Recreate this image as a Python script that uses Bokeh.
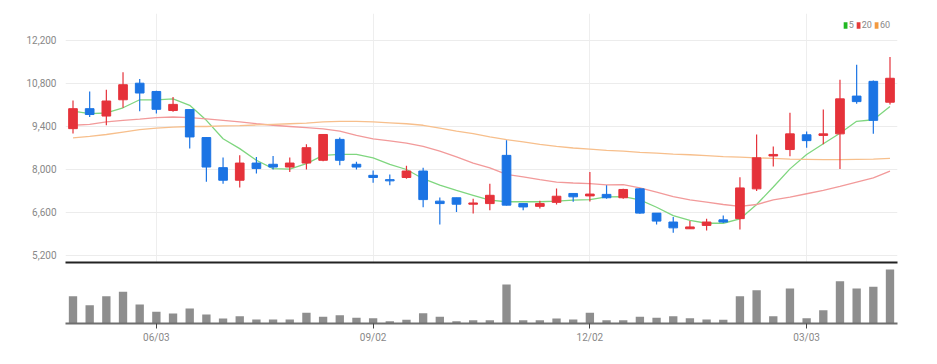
from bokeh.plotting import figure
from bokeh.layouts import column
from bokeh.models import ColumnDataSource, FixedTicker, NumeralTickFormatter, Range1d, Legend, LegendItem
from bokeh.embed import file_html
from bokeh.resources import INLINE

opens = [9330, 9980, 9740, 10270, 10810, 10540, 9920, 9950, 9040, 8060,
         7650, 8210, 8170, 8080, 8210, 8300, 8980, 8170, 7810, 7670,
         7740, 7950, 6970, 7080, 6870, 6890, 8460, 6890, 6800, 6930,
         7220, 7140, 7190, 7080, 7370, 6580, 6290, 6070, 6180, 6360,
         6400, 7370, 8440, 8650, 9130, 9110, 9160, 10390, 10870, 10190]
highs = [10250, 10540, 10600, 11170, 10950, 10560, 10360, 9950, 9060, 8390,
         8460, 8410, 8440, 8390, 8820, 9140, 9040, 8250, 7970, 7840,
         8120, 8060, 7090, 7080, 7050, 7540, 8950, 6890, 6980, 7380,
         7220, 7920, 7490, 7370, 7400, 6580, 6450, 6320, 6400, 6500,
         7750, 9140, 8750, 9850, 9240, 9950, 10920, 11410, 10900, 11660]
lows = [9170, 9710, 9440, 10010, 9900, 9820, 9880, 8680, 7600, 7540,
        7410, 7870, 8000, 7920, 8000, 8270, 8140, 8000, 7570, 7490,
        7700, 6770, 6210, 6620, 6570, 6670, 6830, 6670, 6730, 6860,
        6950, 6960, 7050, 7050, 6560, 6210, 5940, 6070, 6010, 6260,
        6050, 7300, 8100, 8430, 8710, 8820, 8020, 10140, 9160, 10120]
closes = [9980, 9790, 10230, 10760, 10490, 9960, 10120, 9060, 8080, 7650,
          8210, 8030, 8080, 8210, 8710, 9140, 8300, 8080, 7740, 7630,
          7950, 7020, 6890, 6870, 6910, 7160, 6840, 6780, 6890, 7130,
          7110, 7200, 7080, 7350, 6580, 6320, 6100, 6130, 6290, 6290,
          7400, 8380, 8490, 9160, 8940, 9160, 10300, 10210, 9600, 10970]
volumes = [820000, 550000, 820000, 950000, 570000, 350000, 300000, 450000, 270000, 150000,
           220000, 120000, 120000, 120000, 320000, 200000, 250000, 170000, 160000, 70000,
           110000, 310000, 200000, 70000, 100000, 100000, 1170000, 100000, 100000, 150000,
           120000, 320000, 100000, 100000, 200000, 170000, 220000, 160000, 120000, 110000,
           820000, 1000000, 220000, 1050000, 160000, 400000, 1270000, 1050000, 1100000, 1620000]
ma5 = [9900, 9820, 9840, 10010, 10270, 10270, 10300, 10090, 9600, 9000,
       8680, 8300, 8030, 8010, 8190, 8460, 8490, 8490, 8380, 8170,
       8000, 7700, 7490, 7320, 7160, 7000, 6950, 6950, 6950, 6970,
       7000, 7020, 7110, 7120, 7010, 6770, 6500, 6340, 6250, 6250,
       6390, 6860, 7430, 8020, 8490, 8840, 9180, 9570, 9620, 10050]
ma20 = [9440, 9470, 9550, 9600, 9640, 9690, 9710, 9690, 9650, 9600,
        9550, 9490, 9440, 9400, 9360, 9320, 9250, 9110, 9000, 8930,
        8860, 8750, 8600, 8410, 8210, 8050, 7840, 7760, 7670, 7590,
        7560, 7540, 7500, 7510, 7400, 7260, 7120, 7010, 6940, 6860,
        6800, 6860, 7010, 7100, 7210, 7320, 7450, 7590, 7730, 7950]
ma60 = [9030, 9080, 9140, 9220, 9300, 9350, 9380, 9400, 9400, 9420,
        9430, 9450, 9470, 9490, 9510, 9550, 9570, 9570, 9550, 9520,
        9490, 9440, 9350, 9250, 9170, 9060, 8970, 8900, 8820, 8750,
        8700, 8660, 8620, 8600, 8560, 8530, 8500, 8480, 8450, 8420,
        8400, 8380, 8360, 8340, 8330, 8320, 8320, 8330, 8340, 8360]
price_ticks = [5200, 6600, 8000, 9400, 10800, 12200]
date_tick_index = [5, 18, 31, 44]
date_tick_labels = ["06/03", "09/02", "12/02", "03/03"]
legend_labels = ["5", "20", "60"]

UP = "#e5323a"
DOWN = "#1b74e4"
FONT = "Roboto"

idx = list(range(len(opens)))
src = ColumnDataSource(dict(
    x=idx, o=opens, h=highs, l=lows, c=closes, v=volumes,
    top=[max(a, b) for a, b in zip(opens, closes)],
    bot=[min(a, b) for a, b in zip(opens, closes)],
    col=[UP if c >= o else DOWN for o, c in zip(opens, closes)],
    ma5=ma5, ma20=ma20, ma60=ma60,
))

xr = Range1d(-0.45, len(opens) - 0.55)

p1 = figure(width=928, height=265, output_backend="svg", toolbar_location=None,
            x_range=xr, y_range=Range1d(4972, 13079),
            min_border_left=65, min_border_right=31, min_border_top=13, min_border_bottom=3)
p1.outline_line_color = None

p1.yaxis.ticker = FixedTicker(ticks=price_ticks)
p1.yaxis.formatter = NumeralTickFormatter(format="0,0")
p1.yaxis.axis_line_color = None
p1.yaxis.major_tick_line_color = None
p1.yaxis.minor_tick_line_color = None
p1.yaxis.major_label_text_font = FONT
p1.yaxis.major_label_text_font_size = "10px"
p1.yaxis.major_label_text_color = "#888888"
p1.yaxis.major_label_standoff = 3

p1.xaxis.ticker = FixedTicker(ticks=[])
p1.xaxis.major_tick_line_color = None
p1.xaxis.minor_tick_line_color = None
p1.xaxis.axis_line_color = "#222222"
p1.xaxis.axis_line_width = 2

p1.ygrid.grid_line_color = "#ececec"
p1.xgrid.ticker = FixedTicker(ticks=date_tick_index)
p1.xgrid.grid_line_color = "#eeeeee"

p1.line("x", "ma5", source=src, line_color="#7fd67f", line_width=1.3)
p1.line("x", "ma20", source=src, line_color="#f29a9a", line_width=1.3)
p1.line("x", "ma60", source=src, line_color="#f7bf8c", line_width=1.3)

p1.segment(x0="x", y0="h", x1="x", y1="l", source=src, line_color="col", line_width=1.2)
p1.vbar(x="x", top="top", bottom="bot", width=0.52, source=src,
        fill_color="col", line_color="col", line_width=1)

# legend swatches (zero-size bars on the MA values, only used for the legend)
g5 = p1.vbar(x="x", top="ma5", bottom="ma5", width=0, source=src, fill_color="#22b822", line_color=None)
g20 = p1.vbar(x="x", top="ma20", bottom="ma20", width=0, source=src, fill_color="#e53a3a", line_color=None)
g60 = p1.vbar(x="x", top="ma60", bottom="ma60", width=0, source=src, fill_color="#f39a40", line_color=None)
legend = Legend(items=[LegendItem(label=legend_labels[0], renderers=[g5]),
                       LegendItem(label=legend_labels[1], renderers=[g20]),
                       LegendItem(label=legend_labels[2], renderers=[g60])],
                location="top_right", orientation="horizontal",
                glyph_width=5, glyph_height=8, label_standoff=1, spacing=2,
                padding=0, margin=7, background_fill_alpha=0, border_line_color=None,
                label_text_font=FONT, label_text_font_size="9px",
                label_text_color="#888888", label_height=10, label_width=5)
p1.add_layout(legend)

p2 = figure(width=928, height=80, output_backend="svg", toolbar_location=None,
            x_range=xr, y_range=Range1d(0, 1740000),
            min_border_left=65, min_border_right=31, min_border_top=0, min_border_bottom=0)
p2.outline_line_color = None
p2.yaxis.visible = False
p2.grid.visible = False
p2.vbar(x="x", top="v", bottom=0, width=0.5, source=src, fill_color="#8e8e8e", line_color=None)
p2.xaxis.ticker = FixedTicker(ticks=date_tick_index)
p2.xaxis.major_label_overrides = {i: s for i, s in zip(date_tick_index, date_tick_labels)}
p2.xaxis.axis_line_color = "#6e6e6e"
p2.xaxis.axis_line_width = 2
p2.xaxis.major_tick_line_color = "#444444"
p2.xaxis.major_tick_out = 5
p2.xaxis.major_tick_in = 0
p2.xaxis.minor_tick_line_color = None
p2.xaxis.major_label_text_font = FONT
p2.xaxis.major_label_text_font_size = "10px"
p2.xaxis.major_label_text_color = "#888888"
p2.xaxis.major_label_standoff = 3

layout = column(p1, p2, spacing=0)
open("out.html", "w").write(file_html(layout, INLINE))
